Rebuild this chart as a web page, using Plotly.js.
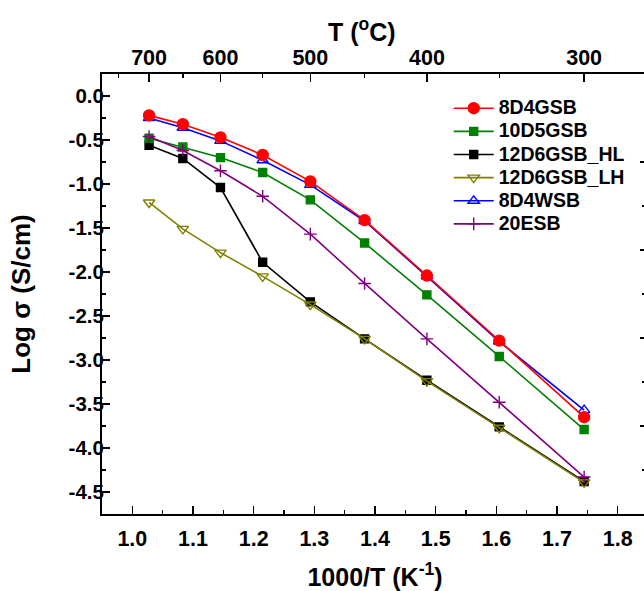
<!DOCTYPE html>
<html>
<head>
<meta charset="utf-8">
<script src="https://cdn.plot.ly/plotly-3.0.1.min.js"></script>
<style>
html, body { margin:0; padding:0; overflow:hidden; background:#fff; }
#chart { width:650px; height:591px; }
</style>
</head>
<body>
<div id="chart"></div>
<script>
// ---- data ----
const tempC = [700, 650, 600, 550, 500, 450, 400, 350, 300];
const s8D4GSB     = [-0.22, -0.32, -0.47, -0.67, -0.97, -1.41, -2.04, -2.78, -3.65];
const s10D5GSB    = [-0.48, -0.58, -0.70, -0.87, -1.18, -1.67, -2.26, -2.96, -3.79];
const s12D6GSB_HL = [-0.56, -0.71, -1.04, -1.89, -2.34, -2.76, -3.23, -3.76, -4.38];
const s12D6GSB_LH = [-1.21, -1.51, -1.78, -2.05, -2.37, -2.76, -3.24, -3.77, -4.39];
const s8D4WSB     = [-0.25, -0.36, -0.51, -0.73, -1.01, -1.42, -2.05, -2.79, -3.57];
const s20ESB      = [-0.46, -0.62, -0.85, -1.14, -1.57, -2.13, -2.76, -3.48, -4.33];

const yTickVals = [0, -0.5, -1, -1.5, -2, -2.5, -3, -3.5, -4, -4.5];
const yTickText = ["0.0", "-0.5", "-1.0", "-1.5", "-2.0", "-2.5", "-3.0", "-3.5", "-4.0", "-4.5"];
const rightMajor = [-0.75, -1.75, -2.75, -3.75];
const rightMinor = [-1.25, -2.25, -3.25, -4.25];
const topMajorT = [700, 600, 500, 400, 300];
const topMinorT = [750, 650, 550, 450, 350];

const invT = tempC.map(t => 1000 / (t + 273.15));
const toInv = t => 1000 / (t + 273.15);

const FONT = "Liberation Sans, Arial, Helvetica, sans-serif";

function tr(name, y, color, symbol, size, rank) {
  return {
    x: invT, y: y, type: 'scatter', mode: 'lines+markers',
    name: '<span style="font-size:19.5px">' + name + '</span>',
    line: {color: color, width: 1.6},
    marker: {symbol: symbol, size: size, color: color, line: {color: color, width: 1.4}},
    legendrank: rank
  };
}

const data = [
  tr('8D4WSB', s8D4WSB, '#0000FF', 'triangle-up-open', 10, 5),
  tr('12D6GSB_HL', s12D6GSB_HL, '#000000', 'square', 8, 3),
  tr('12D6GSB_LH', s12D6GSB_LH, '#808000', 'triangle-down-open', 10, 4),
  tr('10D5GSB', s10D5GSB, '#008000', 'square', 8, 2),
  tr('8D4GSB', s8D4GSB, '#FF0000', 'circle', 11, 1),
  tr('20ESB', s20ESB, '#800080', 'cross-thin-open', 9, 6),
  // carrier for the top (temperature) axis and right axis, draws nothing
  {x: invT, y: s8D4GSB, xaxis: 'x2', yaxis: 'y2', type: 'scatter', mode: 'none',
   showlegend: false, hoverinfo: 'skip'}
];

const axisCommon = {
  showline: true, linecolor: '#000', linewidth: 2,
  showgrid: false, zeroline: false,
  ticks: 'inside', tickcolor: '#000', tickwidth: 1.6, ticklen: 8,
  tickfont: {family: FONT, size: 21.5, color: '#000', weight: 'bold'}
};

const layout = {
  width: 650, height: 591,
  margin: {l: 102, r: 2, t: 74, b: 77},
  paper_bgcolor: '#fff', plot_bgcolor: '#fff',
  font: {family: FONT, color: '#000', weight: 'bold'},
  showlegend: true,
  legend: {
    x: 0.635, y: 0.96, xanchor: 'left', yanchor: 'top',
    bgcolor: 'rgba(0,0,0,0)', borderwidth: 0,
    font: {family: FONT, size: 15.5, color: '#000', weight: 'bold'},
    itemwidth: 40
  },
  xaxis: Object.assign({}, axisCommon, {
    range: [0.95, 1.85], dtick: 0.1, tick0: 1.0, tickformat: '.1f',
    mirror: true, ticklabelstandoff: 4,
    minor: {dtick: 0.05, tick0: 1.0, ticks: 'inside', ticklen: 4, tickwidth: 1.4, tickcolor: '#000'},
    title: {text: '1000/T (K<sup>-1</sup>)', font: {family: FONT, size: 25, color: '#000', weight: 'bold'}, standoff: 22}
  }),
  xaxis2: Object.assign({}, axisCommon, {
    overlaying: 'x', side: 'top', anchor: 'y2',
    range: [0.95, 1.85], ticklabelstandoff: -2,
    tickmode: 'array', tickvals: topMajorT.map(toInv), ticktext: topMajorT.map(String),
    minor: {tickmode: 'array', tickvals: topMinorT.map(toInv), ticks: 'inside', ticklen: 4, tickwidth: 1.4, tickcolor: '#000'}
  }),
  yaxis: Object.assign({}, axisCommon, {
    range: [-4.75, 0.25],
    tickmode: 'array', tickvals: yTickVals, ticktext: yTickText,
    mirror: true, ticklabelstandoff: -8,
    tickfont: {family: FONT, size: 20.5, color: '#000', weight: 'bold'},
    minor: {dtick: 0.25, tick0: 0, ticks: 'inside', ticklen: 4, tickwidth: 1.4, tickcolor: '#000'},
    title: {text: 'Log σ (S/cm)', font: {family: FONT, size: 26, color: '#000', weight: 'bold'}, standoff: 30}
  }),
  yaxis2: Object.assign({}, axisCommon, {
    overlaying: 'y', side: 'right', anchor: 'x2',
    range: [-4.75, 0.25], showticklabels: false,
    tickmode: 'array', tickvals: rightMajor,
    minor: {tickmode: 'array', tickvals: rightMinor, ticks: 'inside', ticklen: 6, tickwidth: 1.4, tickcolor: '#000'}
  }),
  annotations: [{
    text: 'T (<sup>o</sup>C)', xref: 'paper', yref: 'paper',
    x: 0.476, y: 1.1, xanchor: 'center', yanchor: 'middle', showarrow: false,
    font: {family: FONT, size: 25, color: '#000', weight: 'bold'}
  }]
};

Plotly.newPlot('chart', data, layout, {displayModeBar: false, staticPlot: true});
</script>
</body>
</html>
